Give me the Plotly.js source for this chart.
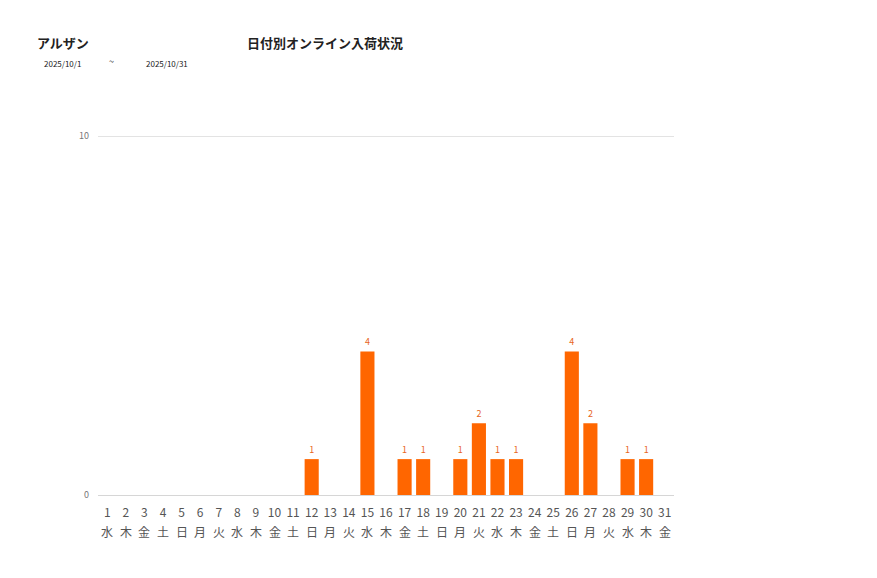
<!DOCTYPE html>
<html>
<head>
<meta charset="utf-8">
<script src="https://cdn.plot.ly/plotly-3.0.1.min.js"></script>
<style>
  html, body { margin: 0; padding: 0; background: #fff; }
  #chart { width: 877px; height: 578px; }
</style>
</head>
<body>
<div id="chart"></div>
<script>
// 日付と曜日
const days = ['1','2','3','4','5','6','7','8','9','10','11','12','13','14','15','16',
              '17','18','19','20','21','22','23','24','25','26','27','28','29','30','31'];
const weekdays = ['水','木','金','土','日','月','火','水','木','金','土','日','月','火','水','木',
                  '金','土','日','月','火','水','木','金','土','日','月','火','水','木','金'];
// 入荷件数
const counts = [0,0,0,0,0,0,0,0,0,0,0,1,0,0,4,0,1,1,0,1,2,1,1,0,0,4,2,0,1,1,0];

const yTicks = [0, 10];

const FONT = '"Noto Sans CJK JP", "Noto Sans", sans-serif';
const ORANGE = '#ff6600';

const trace = {
    x: days,
    y: counts,
    type: 'bar',
    marker: { color: ORANGE },
    text: counts.map(v => v > 0 ? String(v) : ''),
    textposition: 'outside',
    textfont: { color: '#e8661c', size: 9, family: FONT },
    cliponaxis: false,
    hoverinfo: 'x+y',
};

// 曜日は日付ラベルの下に置く (カテゴリ軸なので位置はインデックス)
const weekdayNotes = weekdays.map((w, i) => ({
    text: w,
    x: i, xref: 'x',
    y: -0.1, yref: 'paper',
    yanchor: 'middle',
    showarrow: false,
    font: { family: FONT, size: 12, color: '#555' },
}));

const titleNotes = [
    { text: '<b>アルザン</b>', x: 35, y: 42, size: 13 },
    { text: '<b>日付別オンライン入荷状況</b>', x: 245, y: 42, size: 13 },
    { text: '2025/10/1', x: 42, y: 63, size: 8 },
    { text: '~', x: 107, y: 61, size: 9 },
    { text: '2025/10/31', x: 144, y: 63, size: 8 },
].map(a => ({
    text: a.text,
    xref: 'paper', yref: 'paper',
    x: (a.x - 98) / 576,
    y: 1 - (a.y - 135) / 360,
    xanchor: 'left', yanchor: 'middle',
    showarrow: false,
    font: { family: FONT, size: a.size, color: '#222' },
}));

const layout = {
    width: 877,
    height: 578,
    paper_bgcolor: '#fff',
    plot_bgcolor: '#fff',
    font: { family: FONT, color: '#555', size: 11 },
    margin: { l: 98, r: 203, t: 135, b: 83 },
    bargap: 0.24,
    showlegend: false,
    xaxis: {
        type: 'category',
        range: [-0.5, days.length - 0.5],
        tickvals: days,
        ticktext: days,
        tickfont: { size: 12, color: '#555', family: FONT },
        ticklabelstandoff: 9,
        showgrid: false,
        showline: false,
        ticks: '',
        fixedrange: true,
    },
    yaxis: {
        range: [0, 10.03],
        tickvals: yTicks,
        ticktext: yTicks.map(String),
        tickfont: { size: 9, color: '#777', family: FONT },
        ticklabelstandoff: 8,
        gridcolor: '#e3e3e3',
        zeroline: true,
        zerolinecolor: '#d6d6d6',
        zerolinewidth: 1,
        ticks: '',
        fixedrange: true,
    },
    annotations: titleNotes.concat(weekdayNotes),
};

Plotly.newPlot('chart', [trace], layout, { displayModeBar: false, staticPlot: true });
</script>
</body>
</html>
